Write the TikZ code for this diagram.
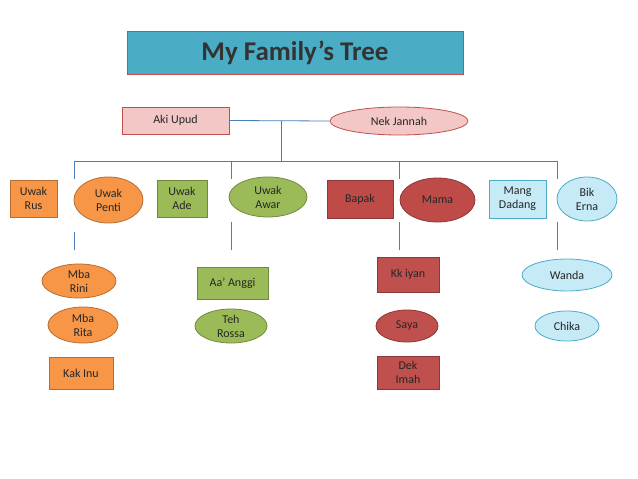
\documentclass[tikz,border=0pt]{standalone}
\usepackage{fontspec}
\setmainfont{Carlito}
\usetikzlibrary{shapes.geometric}
\definecolor{ln}{HTML}{4A7EBB}
\definecolor{pk}{HTML}{F4C7C7}\definecolor{pkb}{HTML}{C0504D}
\definecolor{og}{HTML}{F79646}\definecolor{ogb}{HTML}{B66D31}
\definecolor{gr}{HTML}{9BBB59}\definecolor{grb}{HTML}{71893F}
\definecolor{rd}{HTML}{BE4B48}\definecolor{rdb}{HTML}{8C3836}
\definecolor{rl}{HTML}{C0504D}
\definecolor{lb}{HTML}{C6EAF6}\definecolor{lbb}{HTML}{4BACC6}
\definecolor{tl}{HTML}{4BACC6}\definecolor{tlb}{HTML}{C0504D}
\tikzset{
 x=1pt,y=-1pt,
 t/.style={font=\fontsize{12}{14}\selectfont,text=black!85,align=center,inner sep=0pt},
 rb/.style={t,draw,rectangle,line width=0.8pt},
 el/.style={t,draw,ellipse,line width=0.8pt},
 con/.style={draw=ln,line width=0.8pt}
}
\begin{document}
\begin{tikzpicture}
\useasboundingbox[fill=white] (0,0) rectangle (638,479);
\node[draw=tlb,fill=tl,line width=1pt,minimum width=336pt,minimum height=43pt,font=\fontsize{27}{29}\selectfont\bfseries,text=black!80] (title) at (295,52.5) {My Family’s Tree};
\node[rb,fill=pk,draw=pkb,minimum width=107pt,minimum height=27pt] (aki) at (175.5,120.5) {Aki Upud};
\node[el,fill=pk,draw=pkb,minimum width=138pt,minimum height=28pt] (nek) at (399,121) {Nek Jannah};
% row 1
\node[rb,fill=og,draw=ogb,minimum width=47pt,minimum height=37pt] (rus) at (33.5,198.5) {Uwak\\Rus};
\node[el,fill=og,draw=ogb,minimum width=69pt,minimum height=46pt] (penti) at (108.5,200) {Uwak\\Penti};
\node[rb,fill=gr,draw=grb,minimum width=50pt,minimum height=37pt] (ade) at (182,198.5) {Uwak\\Ade};
\node[el,fill=gr,draw=grb,minimum width=78pt,minimum height=40pt] (awar) at (268,197) {Uwak\\Awar};
\node[rb,fill=rd,draw=rdb,minimum width=66pt,minimum height=38pt] (bapak) at (360,199) {Bapak};
\node[el,fill=rd,draw=rdb,minimum width=75pt,minimum height=44pt] (mama) at (437.5,200) {Mama};
\node[rb,fill=lb,draw=lbb,minimum width=57pt,minimum height=38pt] (mang) at (517.5,199) {Mang\\Dadang};
\node[el,fill=lb,draw=lbb,minimum width=60pt,minimum height=44pt] (bik) at (587,199) {Bik\\Erna};
% children
\node[el,fill=og,draw=ogb,minimum width=74pt,minimum height=34pt] (rini) at (79,281) {Mba\\Rini};
\node[el,fill=og,draw=ogb,minimum width=70pt,minimum height=36pt] (rita) at (83,325) {Mba\\Rita};
\node[rb,fill=og,draw=ogb,minimum width=64pt,minimum height=32pt] (inu) at (81,373) {Kak Inu};
\node[rb,fill=gr,draw=grb,minimum width=71pt,minimum height=32pt] (anggi) at (232.5,283) {Aa’ Anggi};
\node[el,fill=gr,draw=grb,minimum width=72pt,minimum height=34pt] (rossa) at (231,326) {Teh\\Rossa};
\node[rb,fill=rl,draw=rdb,minimum width=62pt,minimum height=35pt] (iyan) at (408,274.5) {Kk iyan};
\node[el,fill=rl,draw=rdb,minimum width=62pt,minimum height=32pt] (saya) at (407,326) {Saya};
\node[rb,fill=rl,draw=rdb,minimum width=62pt,minimum height=33pt] (imah) at (408,372.5) {Dek\\Imah};
\node[el,fill=lb,draw=lbb,minimum width=90pt,minimum height=32pt] (wanda) at (567,275) {Wanda};
\node[el,fill=lb,draw=lbb,minimum width=64pt,minimum height=30pt] (chika) at (567,326) {Chika};
% connectors
\coordinate (m) at (281,121);
\coordinate (mb) at (281,161);
\coordinate (h1) at (74,161);\coordinate (h2) at (231,161);\coordinate (h3) at (399,161);\coordinate (h4) at (557,161);
\coordinate (d1) at (74,179);\coordinate (d2) at (231,179);\coordinate (d3) at (399,179);\coordinate (d4) at (557,179);
\coordinate (e1) at (74,232);\coordinate (e2) at (231,222);\coordinate (e3) at (399,222);\coordinate (e4) at (557,222);
\coordinate (f1) at (74,250);\coordinate (f2) at (231,250);\coordinate (f3) at (399,250);\coordinate (f4) at (557,250);
\draw[con] (aki.east) -- (nek.west);
\draw[con] (m) -- (mb);
\draw[con] (h1) -- (h4);
\foreach \i in {1,2,3,4}{\draw[con] (h\i) -- (d\i); \draw[con] (e\i) -- (f\i);}
\end{tikzpicture}
\end{document}
